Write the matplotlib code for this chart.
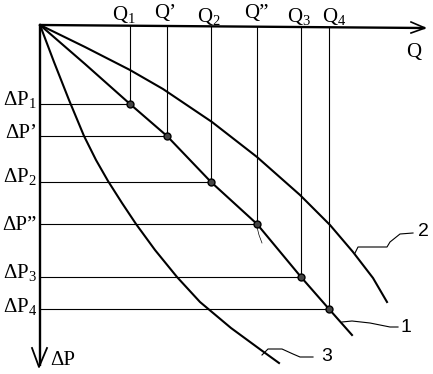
import numpy as np
import matplotlib
matplotlib.use("Agg")
import matplotlib.pyplot as plt

plt.rcParams['font.family'] = ['Liberation Serif', 'DejaVu Serif']
plt.rcParams['mathtext.fontset'] = 'custom'
plt.rcParams['mathtext.rm'] = 'Liberation Serif'
plt.rcParams['mathtext.it'] = 'Liberation Serif:italic'

# ---- data (Q to the right, dP downward, origin at the corner) ----
q_labels = ['Q$_1$', 'Q\u2019', 'Q$_2$', 'Q\u201d', 'Q$_3$', 'Q$_4$']
dp_labels = ['\u0394P$_1$', '\u0394P\u2019', '\u0394P$_2$', '\u0394P\u201d', '\u0394P$_3$', '\u0394P$_4$']
q_vals = [90, 127, 171, 217, 261, 289]
dp_vals = [79, 111, 157, 199, 252, 284]

curve1_q = [0, 45, 90, 127, 171, 217, 261, 289, 312]
curve1_dp = [0, 39, 79, 111, 157, 199, 252, 284, 310]
curve2_q = [0, 45, 90, 123, 172, 217, 260, 290, 313, 333, 347]
curve2_dp = [0, 22, 45, 64, 97, 132, 170, 200, 227, 253, 277]
curve3_q = [0, 14, 29, 44, 56, 68, 82, 96, 115, 137, 160, 191, 221, 239]
curve3_dp = [0, 37, 75, 111, 135, 156, 178, 199, 225, 252, 277, 303, 325, 338]

curve_names = ['1', '2', '3']

# ---- layout / positions (not data) ----
q_label_x = [72, 114, 157, 204, 247, 282]
q_label_base = [-5, -7, -3, -7, -3, -3]
dp_label_shift = [1, 2, 0, 6, 1, 3]

leader1 = ([302, 312, 330, 350, 358], [297, 296, 298, 302, 302])
leader2 = ([315, 318, 347, 350, 360, 373], [228, 222, 222, 217, 209, 208])
leader3 = ([222, 228, 242, 253, 260, 273], [330, 324, 324, 329, 332, 332])
name_pos = [(366, 303), (383, 207), (287, 332)]
tail_q = [217, 219, 222]
tail_dp = [202, 210, 218]

fig = plt.figure(figsize=(4.33, 3.74), dpi=100)
ax = fig.add_axes([0, 0, 1, 1])
ax.set_xlim(-40, 393)
ax.set_ylim(349, -25)
ax.axis('off')

# axes
axis_end = (385, 3)
ax.plot([0, axis_end[0]], [0, axis_end[1]], color='black', lw=1.7, solid_capstyle='butt')
ax.plot([371, 385, 371], [-3, 3, 8], color='black', lw=1.2)
ax.plot([0, 0], [0, 341], color='black', lw=1.7, solid_capstyle='butt')
ax.plot([-8, -1, 7], [323, 342, 323], color='black', lw=1.3)

ax.text(366, 32, 'Q', fontsize=15, ha='left', va='baseline')
ax.text(10, 340, '\u0394P', fontsize=15, ha='left', va='baseline')

# curves
for cq, cdp in [(curve1_q, curve1_dp), (curve2_q, curve2_dp), (curve3_q, curve3_dp)]:
    ax.plot(cq, cdp, color='black', lw=1.5, solid_joinstyle='round')

# guide lines and markers
for i, (q, dp) in enumerate(zip(q_vals, dp_vals)):
    top = axis_end[1] * q / axis_end[0]
    ax.plot([q, q], [top, dp], color='black', lw=0.8)
    ax.plot([0, q], [dp, dp], color='black', lw=0.8)
    ax.text(q_label_x[i], q_label_base[i], q_labels[i], fontsize=15,
            ha='left', va='baseline')
    ax.text(-3, dp + dp_label_shift[i], dp_labels[i], fontsize=15,
            ha='right', va='baseline')
ax.plot(q_vals, dp_vals, linestyle='none', marker='o', ms=5,
        mfc='#444444', mec='black', mew=1.0)
ax.plot(tail_q, tail_dp, color='black', lw=0.5)

# leaders and curve numbers
for (lx, ly), name, (nx, ny) in zip([leader1, leader2, leader3], curve_names, name_pos):
    ax.plot(lx, ly, color='black', lw=0.8)
    ax.text(nx, ny, name, fontsize=14, family='Liberation Sans',
            ha='center', va='center')

fig.savefig('out.png', dpi=100)
